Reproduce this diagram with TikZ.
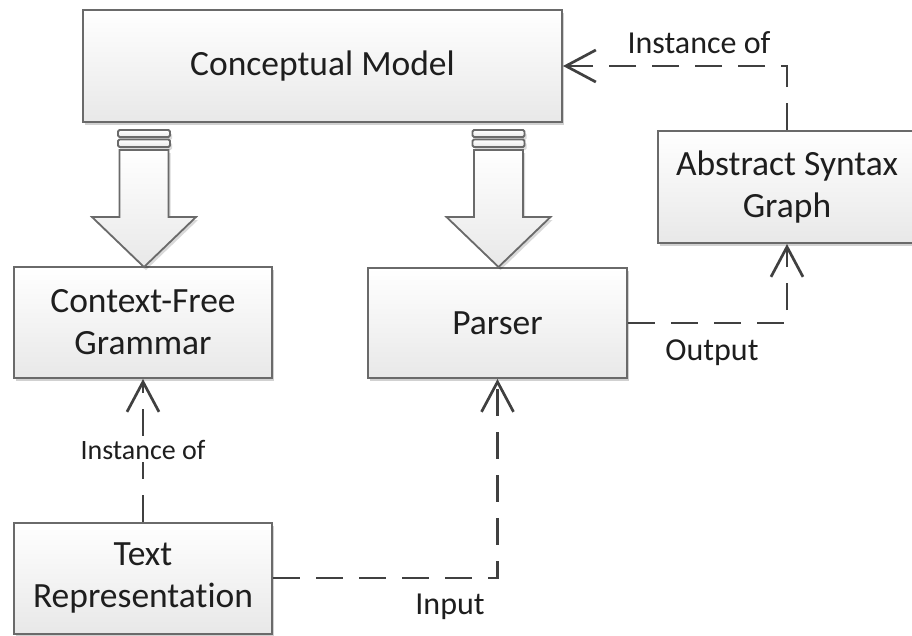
\documentclass[tikz,border=0pt]{standalone}
\usepackage{fontspec}
\setmainfont[Ligatures=NoCommon]{Carlito}
\usetikzlibrary{arrows.meta,shadows,calc}
\definecolor{boxborder}{HTML}{6A6A6A}
\definecolor{boxbottom}{HTML}{E8E8E8}
\definecolor{connc}{HTML}{404040}
\definecolor{txt}{HTML}{1E1E1E}
\begin{document}
\begin{tikzpicture}[x=1pt,y=-1pt,
  box/.style={draw=boxborder, line width=2pt, top color=white, bottom color=boxbottom,
    minimum width=258pt, minimum height=111pt, align=center, inner sep=0pt,
    font=\fontsize{35.5}{42}\selectfont, text=txt,
    drop shadow={shadow xshift=2pt, shadow yshift=-3pt, opacity=0.18, fill=black}},
  conn/.style={draw=connc, line width=2.7pt, dash pattern=on 27pt off 16pt,
    -{Straight Barb[length=30pt,width=32pt]}},
  lbl/.style={font=\fontsize{32}{38}\selectfont, text=txt, inner sep=2pt},
  barrow/.style={draw=boxborder, line width=1.8pt, top color=white, bottom color=boxbottom,
    drop shadow={shadow xshift=2pt, shadow yshift=-3pt, opacity=0.15, fill=black}},
  blockarr/.pic={
    \path[barrow, rounded corners=1.5pt] (-26,130) rectangle (26,137);
    \path[barrow, rounded corners=1.5pt] (-26,139.5) rectangle (26,147);
    \path[barrow] (-24.5,150) -- (24.5,150) -- (24.5,217) -- (52,217) -- (0,267)
       -- (-52,217) -- (-24.5,217) -- cycle;
  }]
\useasboundingbox (0,0) rectangle (912,635);

\node[box, minimum width=479pt, minimum height=112pt] (cm) at (322.5,66) {Conceptual Model};
\node[box, minimum height=112pt] (asg) at (787,187) {Abstract Syntax\\Graph};
\node[box] (cfg) at (143,322.5) {Context-Free\\Grammar};
\node[box, minimum width=259pt, minimum height=110pt] (parser) at (497.5,323) {Parser};
\node[box] (tr) at (143,578) {Text\\Representation};

\pic at (144,0) {blockarr};
\pic at (498.5,0) {blockarr};

\draw[conn] (asg.north) |- (cm.east);
\node[lbl] (l1) at (699,43) {Instance of};

\draw[conn] (parser.east) -| (asg.south);
\node[lbl] (l2) at (712,353) {Output};

\draw[conn] (tr.east) -| (parser.south);
\node[lbl] (l3) at (450,607) {Input};

\draw[conn] (tr.north) -- (cfg.south);
\node[lbl, fill=white, font=\fontsize{28}{33}\selectfont] (l4) at (143,450) {Instance of};
\end{tikzpicture}
\end{document}
